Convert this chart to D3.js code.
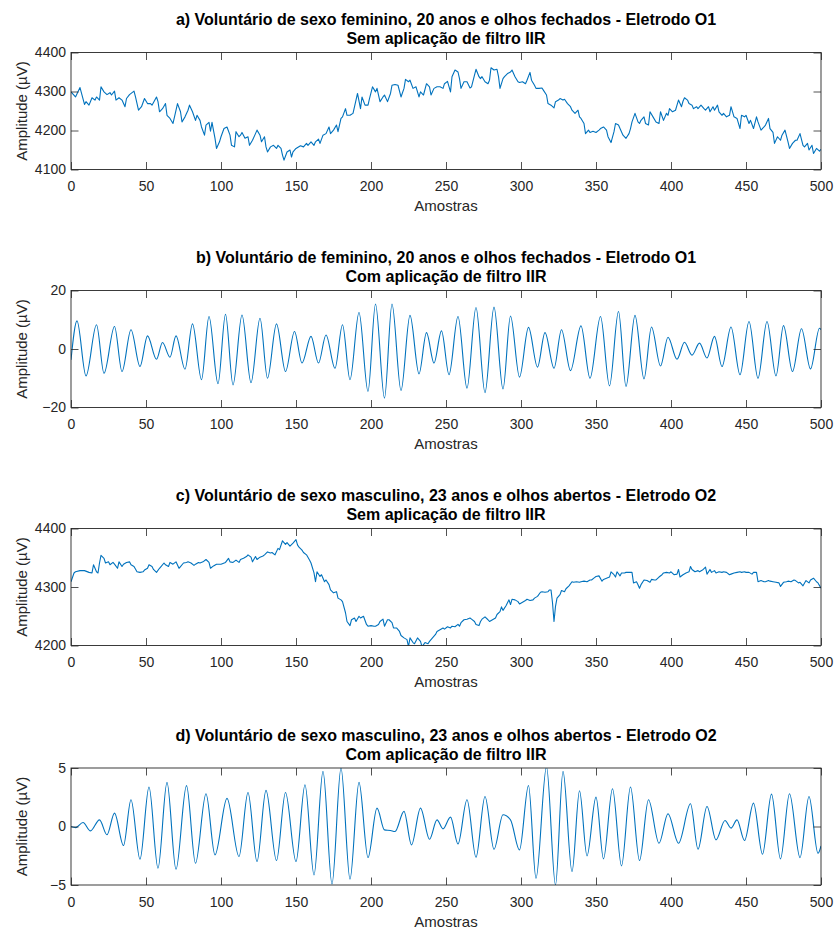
<!DOCTYPE html>
<html><head><meta charset="utf-8">
<script src="https://cdn.jsdelivr.net/npm/d3@7"></script>
<style>body{margin:0;background:#fff}</style>
</head><body><svg id="chart" width="835" height="934"></svg>
<script>
// ---------- DATA ----------
const xTickValues = [0,50,100,150,200,250,300,350,400,450,500];

const titlesA = ["a) Voluntário de sexo feminino, 20 anos e olhos fechados - Eletrodo O1", "Sem aplicação de filtro IIR"];
const titlesB = ["b) Voluntário de feminino, 20 anos e olhos fechados - Eletrodo O1", "Com aplicação de filtro IIR"];
const titlesC = ["c) Voluntário de sexo masculino, 23 anos e olhos abertos - Eletrodo O2", "Sem aplicação de filtro IIR"];
const titlesD = ["d) Voluntário de sexo masculino, 23 anos e olhos abertos - Eletrodo O2", "Com aplicação de filtro IIR"];

const yTicksA = [4100,4200,4300,4400];
const yTicksB = [-20,0,20];
const yTicksC = [4200,4300,4400];
const yTicksD = [-5,0,5];

const amostrasA = [
0,3,6,9,10,12,14,16,17,19,
20,22,24,26,27,29,30,32,34,36,
37,39,42,43,45,47,49,51,53,54,
57,58,59,61,63,64,66,68,69,71,
73,74,76,78,79,81,83,84,86,87,
89,90,92,93,94,96,97,99,100,102,
104,106,107,109,110,112,113,114,116,118,
119,121,123,124,126,127,129,130,131,133,
135,137,138,140,141,142,144,146,147,148,
150,153,155,157,158,160,162,163,165,166,
168,170,172,173,175,177,178,180,181,183,
184,186,188,190,191,193,194,196,198,199,
201,203,204,206,208,209,211,213,214,216,
218,220,222,223,225,226,228,230,232,233,
235,237,239,240,242,244,246,248,249,251,
253,254,256,258,259,260,262,264,266,267,
269,270,272,273,274,276,278,279,280,282,
284,285,286,288,289,291,293,294,296,298,
299,301,303,304,306,307,309,310,312,314,
315,317,318,320,322,323,325,326,328,329,
331,333,334,336,338,339,340,342,343,345,
346,348,350,352,353,355,357,358,360,362,
363,365,366,368,370,372,373,374,376,378,
379,380,382,383,385,386,388,390,392,393,
395,397,398,399,401,403,404,405,407,408,
409,411,412,414,415,417,418,420,422,423,
425,426,428,429,431,432,434,435,437,439,
440,442,444,446,447,449,450,452,453,455,
457,458,460,462,463,465,466,468,469,471,
473,474,476,478,479,481,483,484,486,488,
489,491,492,494,495,497,499,500];
const amplitudeA = [
4299,4286,4310,4267,4274,4265,4284,4278,4286,4278,
4312,4299,4292,4297,4291,4301,4278,4284,4278,4261,
4282,4292,4301,4286,4252,4261,4282,4269,4269,4265,
4286,4274,4248,4256,4269,4239,4231,4218,4235,4269,
4248,4222,4235,4252,4265,4248,4226,4239,4226,4209,
4188,4214,4221,4198,4221,4180,4154,4171,4184,4205,
4209,4188,4162,4158,4197,4184,4188,4195,4180,4184,
4162,4175,4192,4201,4188,4171,4184,4158,4145,4158,
4162,4154,4162,4154,4137,4124,4145,4150,4132,4145,
4154,4161,4158,4167,4162,4171,4162,4171,4178,4167,
4188,4192,4209,4192,4201,4214,4197,4231,4235,4256,
4239,4239,4244,4278,4295,4256,4286,4265,4265,4282,
4312,4299,4308,4274,4286,4291,4274,4295,4316,4318,
4316,4286,4308,4331,4325,4329,4308,4312,4286,4299,
4291,4320,4312,4291,4308,4312,4312,4308,4320,4326,
4299,4338,4355,4350,4333,4308,4325,4325,4309,4312,
4342,4357,4338,4333,4338,4325,4320,4329,4361,4355,
4357,4338,4308,4333,4338,4346,4350,4355,4338,4325,
4323,4325,4320,4329,4349,4329,4316,4308,4308,4309,
4303,4291,4269,4265,4258,4274,4278,4282,4278,4280,
4269,4261,4252,4244,4252,4235,4231,4218,4192,4201,
4195,4198,4195,4201,4205,4209,4201,4184,4169,4197,
4218,4214,4205,4188,4180,4192,4205,4222,4244,4222,
4218,4226,4235,4218,4214,4248,4235,4222,4218,4248,
4226,4244,4239,4256,4248,4252,4265,4278,4261,4275,
4284,4278,4269,4265,4256,4261,4256,4265,4256,4252,
4261,4248,4261,4252,4265,4248,4239,4244,4235,4239,
4261,4235,4231,4205,4239,4235,4239,4218,4226,4205,
4235,4222,4201,4209,4214,4231,4205,4195,4167,4184,
4175,4188,4201,4171,4154,4167,4175,4175,4192,4162,
4158,4167,4150,4162,4141,4154,4147,4152];

const amostrasB = [
0,4,10,17,22,29,34,40,46,51,
57,61,66,70,76,81,87,92,98,103,
108,114,120,126,131,137,143,149,154,160,
165,170,176,181,186,192,198,203,209,214,
220,226,232,237,242,247,252,258,264,270,
276,282,288,293,299,305,311,316,322,327,
333,340,346,353,359,365,370,376,382,387,
393,398,404,409,414,419,424,429,434,440,
446,452,458,464,470,475,481,487,493,499,
500];
const amplitudeB = [
-3.7,9.6,-9.2,8.3,-8.3,7.7,-7.7,6.6,-6.0,4.5,
-3.5,2.2,-2.8,4.5,-6.9,8.6,-10.5,11.1,-11.9,11.9,
-12.3,11.6,-11.5,10.5,-10.0,8.6,-7.7,6.0,-4.8,4.3,
-4.8,4.8,-6.6,8.3,-10.5,12.5,-14.5,15.4,-16.8,15.4,
-14.2,11.5,-8.5,5.6,-4.8,6.2,-8.8,11.1,-13.4,14.2,
-14.9,14.3,-13.7,11.3,-9.6,7.4,-6.2,5.6,-6.6,6.6,
-7.4,7.9,-10.0,11.1,-12.6,12.8,-12.8,11.5,-10.2,7.5,
-5.8,4.0,-3.5,2.3,-2.1,2.0,-3.1,4.3,-6.0,7.5,
-8.8,9.4,-10.0,9.4,-9.2,8.0,-7.7,6.9,-6.8,7.1,
6.6];

const amostrasC = [
0,2,3,6,9,12,14,15,17,18,
19,20,22,23,25,26,28,29,31,32,
34,35,37,39,40,42,44,46,48,49,
51,52,54,55,57,59,60,62,63,65,
66,68,70,72,73,75,77,78,80,82,
83,85,86,88,90,92,93,95,97,98,
100,103,105,106,108,110,112,113,115,117,
118,120,121,123,124,126,128,129,131,133,
134,136,138,139,141,143,144,146,148,150,
151,152,154,155,157,159,160,162,163,164,
166,167,169,170,172,173,175,177,178,180,
181,183,184,186,187,189,190,192,193,195,
197,198,200,202,203,205,206,208,209,211,
212,214,215,217,219,220,222,224,225,226,
228,229,231,233,234,236,238,239,241,243,
244,248,249,251,253,254,256,258,259,260,
262,264,266,267,269,270,272,273,274,276,
278,279,281,283,284,286,287,288,290,292,
293,294,296,298,299,301,303,304,306,308,
309,311,313,314,316,318,319,320,321,322,
323,324,326,327,329,330,332,334,335,337,
339,340,342,344,346,347,349,350,352,354,
355,357,359,360,362,363,364,366,367,369,
370,372,374,375,377,378,379,380,382,384,
386,387,389,390,392,394,395,397,399,400,
402,404,405,406,408,410,412,413,414,416,
418,419,421,423,424,426,427,429,430,432,
434,435,437,439,440,442,444,446,447,449,
450,452,454,455,457,458,460,462,463,465,
466,468,470,472,473,475,477,478,480,482,
483,485,486,488,490,492,493,495,497,498,
500];
const amplitudeC = [
4309,4324,4326,4328,4328,4325,4324,4338,4326,4324,
4341,4354,4349,4341,4343,4338,4342,4339,4332,4343,
4335,4339,4342,4343,4338,4335,4326,4325,4326,4329,
4332,4338,4335,4330,4325,4332,4335,4341,4338,4335,
4342,4339,4343,4332,4335,4341,4342,4343,4341,4337,
4339,4342,4341,4343,4347,4342,4332,4336,4339,4339,
4339,4342,4349,4343,4342,4346,4342,4347,4349,4352,
4355,4351,4343,4352,4347,4351,4353,4355,4360,4358,
4359,4355,4366,4364,4379,4373,4376,4370,4375,4381,
4372,4368,4363,4359,4355,4346,4341,4324,4309,4326,
4318,4321,4309,4312,4304,4295,4290,4292,4281,4278,
4275,4256,4241,4234,4244,4247,4241,4250,4247,4250,
4236,4233,4234,4233,4233,4236,4241,4245,4233,4244,
4244,4239,4230,4230,4224,4217,4213,4210,4198,4213,
4205,4203,4213,4207,4198,4205,4203,4207,4213,4219,
4224,4230,4228,4232,4230,4233,4232,4236,4233,4239,
4244,4245,4247,4245,4241,4236,4234,4241,4245,4249,
4244,4241,4244,4247,4253,4258,4266,4260,4268,4278,
4270,4279,4278,4275,4271,4274,4277,4279,4277,4278,
4281,4284,4291,4292,4291,4292,4295,4295,4273,4241,
4267,4281,4287,4294,4292,4297,4302,4309,4308,4309,
4308,4309,4310,4309,4312,4312,4316,4318,4319,4310,
4313,4315,4317,4326,4321,4317,4326,4319,4324,4324,
4325,4325,4325,4307,4309,4304,4298,4304,4312,4311,
4308,4313,4312,4312,4317,4321,4324,4325,4324,4326,
4321,4322,4330,4317,4321,4324,4326,4335,4330,4326,
4328,4326,4329,4334,4322,4330,4325,4328,4324,4326,
4325,4326,4325,4321,4322,4324,4325,4326,4325,4326,
4325,4325,4322,4325,4325,4309,4311,4309,4309,4311,
4310,4309,4308,4307,4301,4308,4309,4310,4309,4312,
4311,4307,4308,4302,4311,4307,4312,4315,4309,4307,
4298];

const amostrasD = [
0,3,8,13,19,24,29,35,40,46,
52,58,64,70,77,83,90,96,104,112,
118,124,130,137,143,150,156,162,168,174,
180,186,192,198,204,209,213,216,222,227,
233,239,244,248,253,258,264,270,276,282,
288,293,299,305,310,317,323,328,334,339,
344,350,355,361,367,373,379,385,392,398,
405,413,418,424,430,436,440,444,449,455,
461,467,473,479,486,492,498,500];
const amplitudeD = [
0.0,-0.1,0.34,-0.37,0.57,-0.71,1.14,-1.63,2.29,-2.8,
3.37,-3.57,3.77,-3.66,3.49,-3.14,2.8,-2.43,2.4,-2.57,
2.91,-3.0,3.09,-2.91,2.91,-3.0,3.57,-4.14,4.71,-4.91,
5.0,-4.51,3.77,-2.66,1.57,-0.29,-0.34,-0.43,1.29,-1.57,
1.57,-1.09,0.57,-0.2,0.8,-1.49,2.29,-2.63,2.57,-1.94,
1.0,0.57,-2.0,3.51,-4.43,5.1,-5.0,4.71,-3.86,3.06,
-2.51,2.51,-2.77,3.23,-3.37,3.37,-2.91,2.29,-1.43,1.09,
-1.43,1.94,-1.94,1.71,-1.14,0.51,-0.14,0.57,-1.2,2.0,
-2.37,2.77,-2.77,2.8,-2.66,2.57,-2.29,-1.66];

// ---------- LAYOUT / STYLE ----------
const W = 835, H = 934;
const plotLeft = 71, plotRight = 821, plotH = 117;
const panelTops = [52.5, 290.5, 528.5, 768];
const lineColor = "#0072BD", axisColor = "#262626";
const fontFamily = "'Liberation Sans', Arial, Helvetica, sans-serif";

const panels = [
  {titles: titlesA, xs: amostrasA, ys: amplitudeA, domain: [4100,4400], yTicks: yTicksA, curve: d3.curveLinear},
  {titles: titlesB, xs: amostrasB, ys: amplitudeB, domain: [-20,20], yTicks: yTicksB, curve: d3.curveMonotoneX},
  {titles: titlesC, xs: amostrasC, ys: amplitudeC, domain: [4200,4400], yTicks: yTicksC, curve: d3.curveLinear},
  {titles: titlesD, xs: amostrasD, ys: amplitudeD, domain: [-5,5], yTicks: yTicksD, curve: d3.curveMonotoneX}
];

const svg = d3.select("#chart");
svg.append("rect").attr("width", W).attr("height", H).attr("fill", "#fff");

const x = d3.scaleLinear().domain([0, 500]).range([plotLeft, plotRight]);
const fmt = d3.format("d");

panels.forEach((p, i) => {
  if (p.xs.length !== p.ys.length) throw new Error("length mismatch panel " + i + ": " + p.xs.length + " vs " + p.ys.length);
  const top = panelTops[i], bottom = top + plotH;
  const y = d3.scaleLinear().domain(p.domain).range([bottom, top]);
  const g = svg.append("g");

  const clipId = "clip" + i;
  svg.append("clipPath").attr("id", clipId).append("rect")
    .attr("x", plotLeft).attr("y", top).attr("width", plotRight - plotLeft).attr("height", plotH);

  // data line
  const pts = p.xs.map((s, k) => [s, p.ys[k]]);
  const line = d3.line().x(d => x(d[0])).y(d => y(d[1])).curve(p.curve);
  g.append("path").datum(pts)
    .attr("d", line)
    .attr("clip-path", `url(#${clipId})`)
    .attr("fill", "none").attr("stroke", lineColor).attr("stroke-width", 1.1)
    .attr("stroke-linejoin", "round");

  // axes
  const styleAxis = sel => {
    sel.select(".domain").remove();
    sel.selectAll(".tick line").attr("stroke", axisColor).attr("stroke-width", 0.8);
    sel.selectAll(".tick text").attr("fill", axisColor).style("font-family", fontFamily).style("font-size", "14px");
  };
  g.append("g").attr("transform", `translate(0,${bottom})`)
    .call(d3.axisBottom(x).tickValues(xTickValues).tickFormat(fmt).tickSize(-7.5).tickPadding(12)).call(styleAxis);
  g.append("g").attr("transform", `translate(0,${top})`)
    .call(d3.axisTop(x).tickValues(xTickValues).tickSize(-7.5).tickFormat("")).call(styleAxis);
  g.append("g").attr("transform", `translate(${plotLeft},0)`)
    .call(d3.axisLeft(y).tickValues(p.yTicks).tickFormat(fmt).tickSize(-7.5).tickPadding(5)).call(styleAxis);
  g.append("g").attr("transform", `translate(${plotRight},0)`)
    .call(d3.axisRight(y).tickValues(p.yTicks).tickSize(-7.5).tickFormat("")).call(styleAxis);

  // box
  g.append("rect").attr("x", plotLeft).attr("y", top)
    .attr("width", plotRight - plotLeft).attr("height", plotH)
    .attr("fill", "none").attr("stroke", axisColor).attr("stroke-width", 0.9);

  // labels
  g.append("text").attr("x", (plotLeft + plotRight) / 2).attr("y", bottom + 41.5)
    .attr("text-anchor", "middle").attr("fill", axisColor)
    .style("font-family", fontFamily).style("font-size", "15px").text("Amostras");
  g.append("text").attr("transform", `translate(27,${(top + bottom) / 2}) rotate(-90)`)
    .attr("text-anchor", "middle").attr("fill", axisColor)
    .style("font-family", fontFamily).style("font-size", "15px").text("Amplitude (µV)");

  // titles
  p.titles.forEach((t, k) => {
    g.append("text").attr("x", (plotLeft + plotRight) / 2).attr("y", top - 27.5 + k * 19)
      .attr("text-anchor", "middle").attr("fill", "#000").attr("font-weight", "bold")
      .style("font-family", fontFamily).style("font-size", "16px").text(t);
  });
});
</script>
</body></html>
